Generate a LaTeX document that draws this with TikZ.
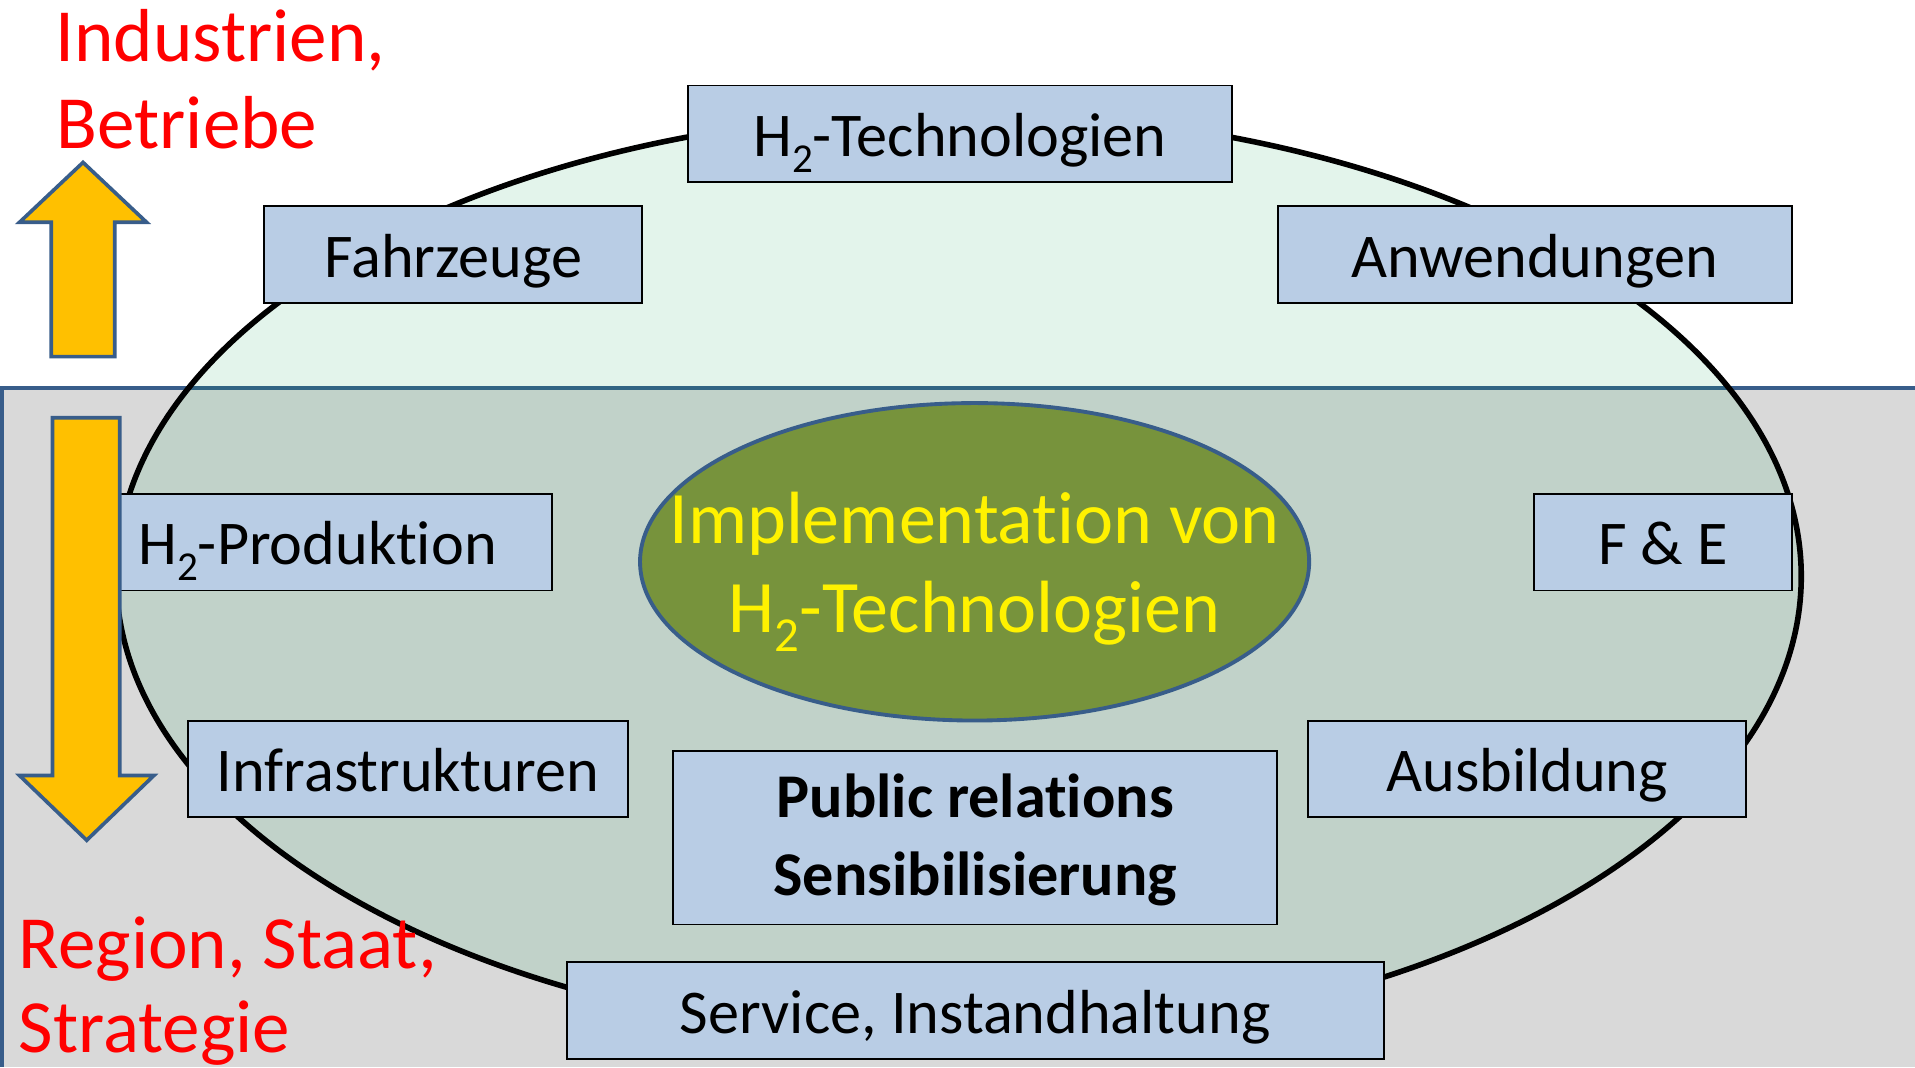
\documentclass[tikz,border=0pt]{standalone}
\usepackage{fontspec}
\setmainfont{Carlito}[Ligatures=NoCommon]
\usetikzlibrary{shapes.geometric}

\definecolor{boxblue}{HTML}{B9CDE5}
\definecolor{bandgray}{HTML}{D9D9D9}
\definecolor{rimblue}{HTML}{385D8A}
\definecolor{ringgreen}{RGB}{0,160,80}
\definecolor{coreolive}{HTML}{77933C}
\definecolor{arrowgold}{HTML}{FFC000}

% H with a deep subscript two
\newcommand{\Hzwei}{H\raisebox{-.26em}{\scalebox{.66}{2}}}

\begin{document}
\begin{tikzpicture}[x=0.02cm,y=-0.02cm]

        \useasboundingbox (0,0) rectangle (1568,874);
        \fill[white] (0,0) rectangle (1568,874);

        % lower band
        \fill[bandgray] (0,318) rectangle (1568,874);
        \draw[rimblue, line width=1.9pt] (1568,318) -- (1.5,318) -- (1.5,874);

        % outer ring and core
        \node[ellipse, draw, line width=2.6pt, fill=ringgreen, fill opacity=.11,
              minimum width=27.6cm, minimum height=15.2cm, inner sep=0] (ring) at (785,472) {};
        \node[ellipse, draw=rimblue, line width=1.8pt, fill=coreolive,
              minimum width=10.96cm, minimum height=5.2cm, inner sep=0] (core) at (798,460) {};
        \node[align=center, text=yellow, inner sep=0,
              font=\fontsize{34.5}{41.5}\selectfont] (coretext) at (798,468)
              {Implementation von\\\Hzwei-Technologien};

        \begin{scope}[every node/.style={draw, fill=boxblue, line width=.9pt, inner sep=0,
                      minimum height=1.58cm, text height=20.9pt, text depth=0pt,
                      font=\fontsize{29}{36}\selectfont}]
          \node[minimum width=8.92cm]  (1) at (786,109.5)  {\Hzwei-Technologien};
          \node[minimum width=6.2cm]   (2) at (371,208.5)  {Fahrzeuge};
          \node[minimum width=8.42cm]  (3) at (1256.5,208.5) {Anwendungen};
          \node[minimum width=7.68cm]  (4) at (260,444)    {\Hzwei-Produktion};
          \node[minimum width=4.22cm]  (5) at (1361.5,444) {F \& E};
          \node[minimum width=7.2cm]   (6) at (334,629.5)  {Infrastrukturen};
          \node[minimum width=7.18cm]  (7) at (1250.5,629.5) {Ausbildung};
          \node[minimum width=9.9cm, minimum height=2.84cm, text height=53.4pt, align=center,
                font=\fontsize{29}{36}\selectfont\bfseries]
                                       (8) at (798.5,686)  {Public relations\\Sensibilisierung};
          \node[minimum width=13.38cm] (9) at (798.5,827.5) {Service, Instandhaltung};
        \end{scope}

        % block arrows
        \begin{scope}[fill=arrowgold, draw=rimblue, line width=1.7pt]
          \filldraw (42,292) -- (42,182) -- (16,182) -- (68,133) -- (120,182)
                    -- (94,182) -- (94,292) -- cycle;
          \filldraw (43,342) -- (98,342) -- (98,635) -- (126,635) -- (71,688)
                    -- (16,635) -- (43,635) -- cycle;
        \end{scope}

        \begin{scope}[every node/.style={text=red, inner sep=0, anchor=base west,
                      font=\fontsize{35}{41.5}\selectfont}]
          \node (up1)   at (45,50)  {Industrien,};
          \node (up2)   at (46,122) {Betriebe};
          \node (down1) at (15,793) {Region, Staat,};
          \node (down2) at (15,862) {Strategie};
        \end{scope}

      \end{tikzpicture}
\end{document}
